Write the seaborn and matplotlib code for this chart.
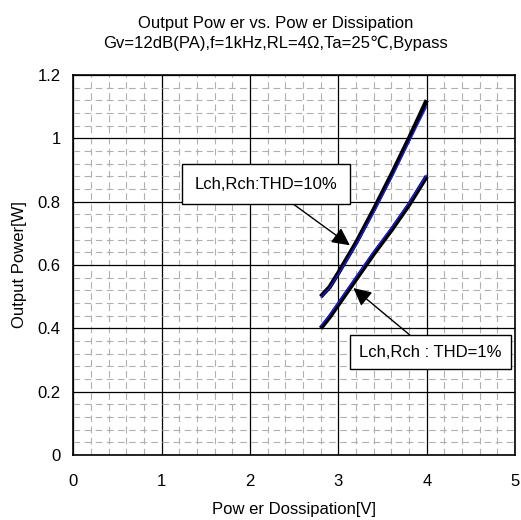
import matplotlib
matplotlib.use("Agg")
import matplotlib.pyplot as plt
from matplotlib.ticker import MultipleLocator
import seaborn as sns
import pandas as pd

sns.set_style("white")
plt.rcParams['font.family'] = ['Liberation Sans', 'DejaVu Sans']
plt.rcParams['text.color'] = 'black'
plt.rcParams['axes.labelcolor'] = 'black'
plt.rcParams['xtick.color'] = 'black'
plt.rcParams['ytick.color'] = 'black'

# Data
pd_x = [2.8, 2.9, 3.0, 3.2, 3.4, 3.6, 3.8, 4.0]
thd10_lch = [0.50, 0.53, 0.575, 0.67, 0.775, 0.885, 1.00, 1.12]
thd10_rch = [0.497, 0.527, 0.570, 0.663, 0.766, 0.873, 0.988, 1.10]
thd1_lch = [0.40, 0.435, 0.475, 0.555, 0.635, 0.71, 0.79, 0.88]
thd1_rch = [0.406, 0.442, 0.482, 0.562, 0.642, 0.717, 0.797, 0.885]

title = "Output Pow er vs. Pow er Dissipation\nGv=12dB(PA),f=1kHz,RL=4\u03a9,Ta=25\u2103,Bypass"
xlabel = "Pow er Dossipation[V]"
ylabel = "Output Power[W]"
label10 = "Lch,Rch:THD=10%"
label1 = "Lch,Rch : THD=1%"

FS = 12

fig = plt.figure(figsize=(5.21, 5.20), dpi=100)
ax = fig.add_axes([0.1407, 0.125, 0.848, 0.731])

df = pd.DataFrame({"x": pd_x, "l10": thd10_lch, "r10": thd10_rch,
                   "l1": thd1_lch, "r1": thd1_rch})

for col, color, lw in [("l10", "black", 3.2), ("l1", "black", 3.2),
                       ("r10", "#1a1aff", 0.9), ("r1", "#1a1aff", 0.9)]:
    sns.lineplot(data=df, x="x", y=col, ax=ax, color=color, lw=lw,
                 solid_capstyle="butt", zorder=3)

ax.set_xlim(0, 5)
ax.set_ylim(0, 1.2)
ax.xaxis.set_minor_locator(MultipleLocator(0.2))
ax.yaxis.set_minor_locator(MultipleLocator(0.04))
ax.set_xticks([0, 1, 2, 3, 4, 5])
ax.set_xticklabels(["0", "1", "2", "3", "4", "5"])
ax.set_yticks([0, 0.2, 0.4, 0.6, 0.8, 1.0, 1.2])
ax.set_yticklabels(["0", "0.2", "0.4", "0.6", "0.8", "1", "1.2"])

ax.grid(which="minor", color="#b0b0b0", linestyle=(0, (6, 4)), lw=0.8, zorder=0)
ax.grid(which="major", color="black", linestyle="-", lw=0.9, zorder=1)
ax.set_axisbelow(True)
ax.tick_params(which="both", length=0, labelsize=FS)
ax.tick_params(axis="x", pad=14)
ax.tick_params(axis="y", pad=9)
for s in ax.spines.values():
    s.set_color("black")
    s.set_linewidth(1.2)
    s.set_visible(True)

ax.set_xlabel(xlabel, fontsize=FS, labelpad=9)
ax.set_ylabel(ylabel, fontsize=FS, labelpad=8)
ax.set_title(title, fontsize=FS, pad=19, linespacing=1.45, x=0.457)

box10 = dict(boxstyle="square,pad=0.75", fc="white", ec="black", lw=1.0)
box1 = dict(boxstyle="square,pad=0.55", fc="white", ec="black", lw=1.0)
arrow = dict(arrowstyle="-|>,head_length=0.9,head_width=0.45", color="black",
             lw=1.0, shrinkA=0, shrinkB=0)
ax.annotate(label10, xy=(3.13, 0.662), xytext=(2.18, 0.855), fontsize=FS,
            ha="center", va="center", bbox=box10, arrowprops=arrow, zorder=5)
ax.annotate(label1, xy=(3.17, 0.527), xytext=(4.04, 0.325), fontsize=FS,
            ha="center", va="center", bbox=box1, arrowprops=arrow, zorder=5)

fig.savefig("out.png", dpi=100)
